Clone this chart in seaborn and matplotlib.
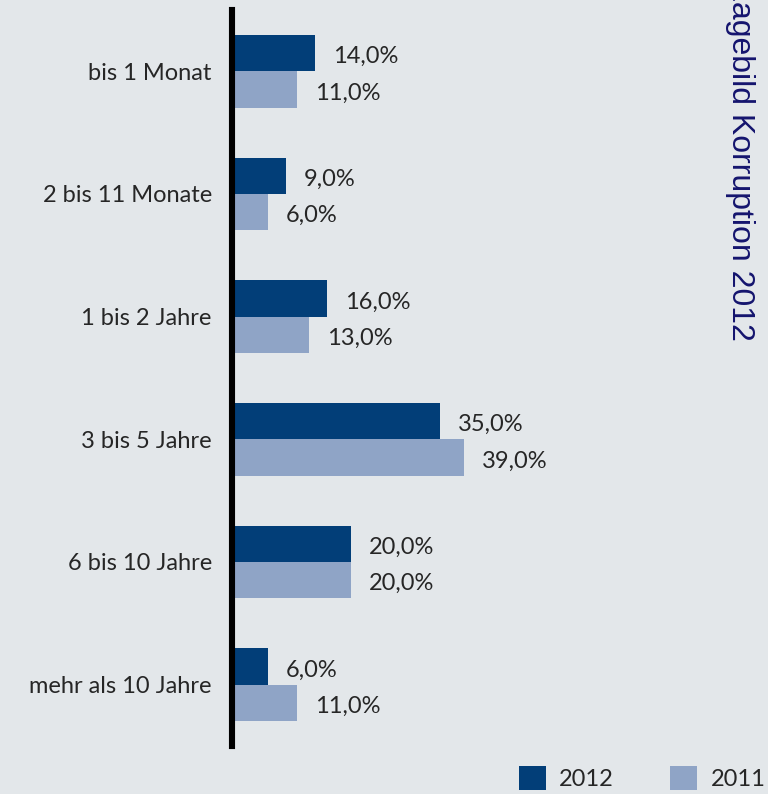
import matplotlib
matplotlib.use("Agg")
import matplotlib.pyplot as plt
import seaborn as sns
import pandas as pd

categories = ['bis 1 Monat', '2 bis 11 Monate', '1 bis 2 Jahre',
              '3 bis 5 Jahre', '6 bis 10 Jahre', 'mehr als 10 Jahre']
years = ['2012', '2011']
values_2012 = [14.0, 9.0, 16.0, 35.0, 20.0, 6.0]
values_2011 = [11.0, 6.0, 13.0, 39.0, 20.0, 11.0]

bg = '#e3e7ea'
dark = '#023e78'
light = '#8fa4c6'
text_col = '#262626'
fs = 17

sns.set_style("white")
plt.rcParams['font.family'] = ['Lato', 'DejaVu Sans']

df = pd.DataFrame({
    'Kategorie': categories * 2,
    'Jahr': [years[0]] * len(categories) + [years[1]] * len(categories),
    'Wert': values_2012 + values_2011,
})

fig = plt.figure(figsize=(7.68, 7.94), dpi=100, facecolor=bg)
ax = fig.add_axes([232 / 768, 48 / 794, 450 / 768, 736 / 794])
ax.set_facecolor(bg)

sns.barplot(data=df, y='Kategorie', x='Wert', hue='Jahr', order=categories,
            hue_order=years, palette=[dark, light], width=0.59, gap=0,
            saturation=1, orient='h', linewidth=0, ax=ax)

for cont in ax.containers:
    labs = [f"{b.get_width():.1f}%".replace('.', ',') for b in cont]
    anns = ax.bar_label(cont, labels=labs, padding=13, fontsize=fs, color=text_col)
    for a in anns:
        a.xyann = (a.xyann[0], -2.5)

ax.set_xlim(0, 450 / 5.95)
ax.set_ylim(5.5, -0.5)
ax.set_xlabel('')
ax.set_ylabel('')
ax.set_xticks([])
for s in ['top', 'right', 'bottom']:
    ax.spines[s].set_visible(False)
ax.spines['left'].set_linewidth(4.4)
ax.spines['left'].set_color('black')
ax.spines['left'].set_zorder(5)
ax.tick_params(axis='y', length=0, pad=14.5, labelsize=fs, labelcolor=text_col)

handles, labels = ax.get_legend_handles_labels()
ax.get_legend().remove()
fig.legend(handles, labels, loc='center', bbox_to_anchor=(642 / 768, 1 - 778 / 794),
           ncol=2, frameon=False, fontsize=fs, handlelength=1.15, handleheight=1.15,
           handletextpad=0.55, columnspacing=2.4, labelcolor=text_col)

fig.text(740 / 768, 1 + 17 / 794, 'Lagebild Korruption 2012', rotation=-90,
         ha='center', va='top', fontsize=23, color='#14146e',
         family=['Liberation Sans', 'DejaVu Sans'])

fig.savefig('out.png', dpi=100, facecolor=bg)
